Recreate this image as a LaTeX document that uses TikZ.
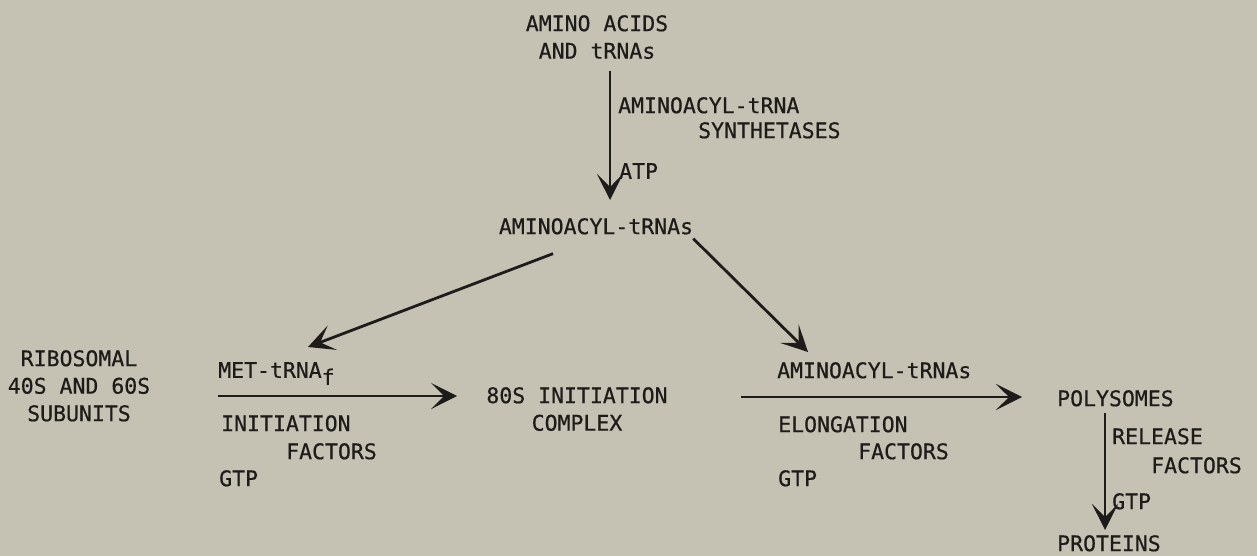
\documentclass[tikz,border=0pt]{standalone}
\usepackage{fontspec}
\setmonofont{DejaVu Sans Mono}[FakeBold=0.6]
\usetikzlibrary{arrows.meta}
\definecolor{bg}{RGB}{197,194,179}
\definecolor{ink}{RGB}{30,28,26}
\begin{document}
\begin{tikzpicture}[x=1pt,y=-1pt,
  txt/.style={inner sep=0pt, font=\ttfamily\fontsize{21.5}{27.5}\selectfont, text=ink},
  arr/.style={draw=ink, line width=2.8pt, -{Stealth[length=26pt,width=26pt,inset=13pt,line width=2.5pt]}}]
\fill[bg] (0,0) rectangle (1257,556);
\useasboundingbox (0,0) rectangle (1257,556);
% nodes
\node[txt, anchor=north, align=center] (aa) at (597,15) {AMINO ACIDS\\AND tRNAs};
\node[txt, anchor=north west] (syn1) at (618,97) {AMINOACYL-tRNA};
\node[txt, anchor=north west] (syn2) at (698,122) {SYNTHETASES};
\node[txt, anchor=north west] (atp) at (619,163) {ATP};
\node[txt, anchor=north] (aas) at (596,218) {AMINOACYL-tRNAs};
\node[txt, anchor=north, align=center] (rib) at (79,350) {RIBOSOMAL\\40S AND 60S\\SUBUNITS};
\node[txt, anchor=north west] (met) at (218,362) {MET-tRNA\raisebox{-7pt}{f}};
\node[txt, anchor=north west] (if1) at (221,415) {INITIATION};
\node[txt, anchor=north west] (if2) at (286,443) {FACTORS};
\node[txt, anchor=north west] (gtp1) at (219,470) {GTP};
\node[txt, anchor=north, align=center] (ic) at (577,387) {80S INITIATION\\COMPLEX};
\node[txt, anchor=north west] (aas2) at (777,362) {AMINOACYL-tRNAs};
\node[txt, anchor=north west] (ef1) at (778,416) {ELONGATION};
\node[txt, anchor=north west] (ef2) at (858,443) {FACTORS};
\node[txt, anchor=north west] (gtp2) at (778,470) {GTP};
\node[txt, anchor=north west] (poly) at (1057,390) {POLYSOMES};
\node[txt, anchor=north west] (rf1) at (1112,428) {RELEASE};
\node[txt, anchor=north west] (rf2) at (1151,457) {FACTORS};
\node[txt, anchor=north west] (gtp3) at (1112,493) {GTP};
\node[txt, anchor=north west] (prot) at (1057,535) {PROTEINS};
% connectors
\draw[arr] ([shift={(13,12)}]aa.south) -- ([shift={(14,-18)}]aas.north);
\draw[arr] ([shift={(-43,19)}]aas.south) -- ([shift={(90,-15)}]met.north west);
\draw[arr] ([shift={(0,4)}]aas.south east) -- ([shift={(31,-10)}]aas2.north west);
\draw[arr] ([shift={(-3,-19)}]if1.north west) -- ([shift={(-29,9)}]ic.north west);
\draw[arr] ([shift={(-37,-19)}]ef1.north west) -- ([shift={(-35,7)}]poly.north west);
\draw[arr] ([shift={(48,6)}]poly.south west) -- ([shift={(48,-5)}]prot.north west);
\end{tikzpicture}
\end{document}
